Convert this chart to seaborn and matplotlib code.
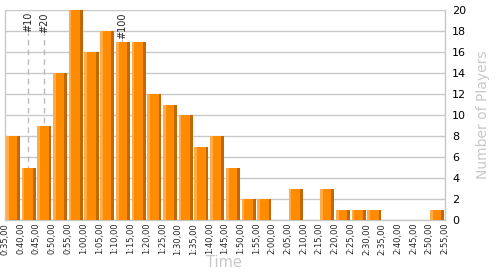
import matplotlib
matplotlib.use("Agg")
import matplotlib.pyplot as plt
import seaborn as sns
import numpy as np
import pandas as pd

# Data
bin_start_min = [35, 40, 45, 50, 55, 60, 65, 70, 75, 80, 85, 90, 95, 100,
                 105, 110, 115, 120, 125, 130, 135, 140, 145, 150, 155, 160, 165, 170]
players = [8, 5, 9, 14, 20, 16, 18, 17, 17, 12, 11, 10, 7, 8,
           5, 2, 2, 0, 3, 0, 3, 1, 1, 1, 0, 0, 0, 1]
tick_labels = ["0:35,00", "0:40,00", "0:45,00", "0:50,00", "0:55,00", "1:00,00",
               "1:05,00", "1:10,00", "1:15,00", "1:20,00", "1:25,00", "1:30,00",
               "1:35,00", "1:40,00", "1:45,00", "1:50,00", "1:55,00", "2:00,00",
               "2:05,00", "2:10,00", "2:15,00", "2:20,00", "2:25,00", "2:30,00",
               "2:35,00", "2:40,00", "2:45,00", "2:50,00", "2:55,00"]
marker_labels = ["#10", "#20", "#100"]
marker_times = [42.3, 47.4, 72.3]

bin_w = 5.0
df = pd.DataFrame({"center": np.array(bin_start_min) + bin_w / 2, "players": players})

sns.set_style("white")
plt.rcParams["font.family"] = ["DejaVu Sans"]
plt.rcParams["patch.force_edgecolor"] = False

fig = plt.figure(figsize=(5, 2.75), dpi=100)
ax = fig.add_axes([0.01, 0.2, 0.88, 0.7636])

main_c = "#FF8C00"
light_c = "#FFAB4A"
dark_c = "#C26800"

bar_frac = 0.9
sns.barplot(data=df, x="center", y="players", native_scale=True, width=bar_frac,
            color=main_c, saturation=1, edgecolor="none", linewidth=0, ax=ax, zorder=3)

bw = bin_w * bar_frac
left = df["center"] - bw / 2
strip = bw * 0.2
ax.bar(left, df["players"], width=strip, align="edge", color=light_c,
       edgecolor="none", linewidth=0, zorder=4)
ax.bar(left + bw - strip, df["players"], width=strip, align="edge", color=dark_c,
       edgecolor="none", linewidth=0, zorder=4)

ax.set_xlim(35, 175)
ax.set_ylim(0, 20)
ax.set_yticks(range(0, 21, 2))
ax.yaxis.tick_right()
ax.yaxis.set_label_position("right")
ax.set_xticks(np.arange(35, 176, 5))
ax.set_xticklabels(tick_labels, rotation=90, fontsize=6)
ax.tick_params(axis="y", labelsize=8, length=0, pad=5, colors="black")
ax.tick_params(axis="x", length=0, pad=2)
ax.grid(axis="y", color="#C8C8C8", linewidth=1, zorder=0)
ax.grid(axis="x", visible=False)
ax.set_axisbelow(True)
for s in ax.spines.values():
    s.set_color("#C8C8C8")
    s.set_linewidth(1)
ax.spines["top"].set_visible(False)

ax.set_ylabel("Number of Players", color="#C8C8C8", fontsize=10, labelpad=7)
ax.set_xlabel("")
fig.text(0.447, 0.045, "Time", color="#C8C8C8", fontsize=10.5, ha="center", va="center")

for lab, t in zip(marker_labels, marker_times):
    ax.axvline(t, ymin=0, ymax=0.89, color="#BBBBBB", linestyle=(0, (4, 3)), linewidth=1, zorder=1)
    ax.text(t, 0.99, lab, rotation=90, ha="center", va="top", fontsize=7,
            transform=ax.get_xaxis_transform(), zorder=5)

fig.savefig("out.png", dpi=100)
